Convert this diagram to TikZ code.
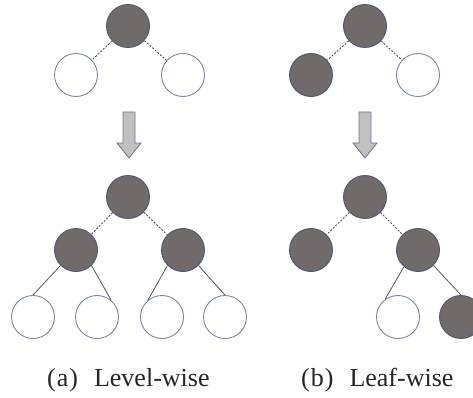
\documentclass[tikz,border=0pt]{standalone}
\usepackage{fontspec}
\setmainfont{Liberation Serif}
\newfontfamily\capfont{Liberation Serif}
\definecolor{nodefill}{RGB}{112,107,106}
\definecolor{rimfill}{RGB}{78,88,115}
\definecolor{rimempty}{RGB}{120,135,165}
\definecolor{edgecol}{RGB}{85,85,85}
\definecolor{arrowfill}{RGB}{192,192,192}
\definecolor{arrowrim}{RGB}{105,118,145}
\begin{document}
\begin{tikzpicture}[x=1pt,y=-1pt,
  full/.style={circle,minimum size=43pt,inner sep=0pt,fill=nodefill,draw=rimfill,line width=0.9pt},
  empty/.style={circle,minimum size=43pt,inner sep=0pt,fill=white,draw=rimempty,line width=0.9pt},
  dashedge/.style={draw=edgecol,line width=0.9pt,dash pattern=on 2pt off 1.5pt},
  solidedge/.style={draw=edgecol,line width=0.8pt},
  blockarrow/.style={fill=arrowfill,draw=arrowrim,line width=0.8pt,line join=miter},
  caption/.style={font=\capfont\fontsize{26}{30}\selectfont,text=black!85,anchor=base west,inner sep=0pt}]
\useasboundingbox (0,0) rectangle (473,398);
\clip (0,0) rectangle (473,398);
% ---- left panel: level-wise ----
\node[full]  (a1) at (128,26) {};
\node[empty] (a2) at (76,75) {};
\node[empty] (a3) at (183,75) {};
\draw[dashedge] (a1) -- (a2);
\draw[dashedge] (a1) -- (a3);
\draw[blockarrow] (123,112) -- (135,112) -- (135,143) -- (141,143) -- (129,158) -- (117,143) -- (123,143) -- cycle;
\node[full]  (a4) at (128,197) {};
\node[full]  (a5) at (76,250) {};
\node[full]  (a6) at (183,250) {};
\node[empty] (a7) at (33,317) {};
\node[empty] (a8) at (97,317) {};
\node[empty] (a9) at (162,317) {};
\node[empty] (a10) at (225,317) {};
\draw[dashedge] (a4) -- (a5);
\draw[dashedge] (a4) -- (a6);
\draw[solidedge] (a5.-135) -- (a7.north);
\draw[solidedge] (a5.-45) -- (a8.50);
\draw[solidedge] (a6.-135) -- (a9.130);
\draw[solidedge] (a6.-45) -- (a10.north);
\node[caption] (ca) at (47,386) {(\hspace{1pt}a\hspace{1pt})\hspace{16pt}Level-wise};
% ---- right panel: leaf-wise ----
\node[full]  (b1) at (365,26) {};
\node[full]  (b2) at (311,75) {};
\node[empty] (b3) at (418,75) {};
\draw[dashedge] (b1) -- (b2);
\draw[dashedge] (b1) -- (b3);
\draw[blockarrow] (359,112) -- (371,112) -- (371,143) -- (377,143) -- (365,158) -- (353,143) -- (359,143) -- cycle;
\node[full]  (b4) at (365,197) {};
\node[full]  (b5) at (311,250) {};
\node[full]  (b6) at (418,250) {};
\node[empty] (b7) at (398,317) {};
\node[full]  (b8) at (461,317) {};
\draw[dashedge] (b4) -- (b5);
\draw[dashedge] (b4) -- (b6);
\draw[solidedge] (b6.-130) -- (b7.126);
\draw[solidedge] (b6.-45) -- (b8.north);
\node[caption] (cb) at (301,386) {(\hspace{1pt}b\hspace{1pt})\hspace{16pt}Leaf-wise};
\end{tikzpicture}
\end{document}
